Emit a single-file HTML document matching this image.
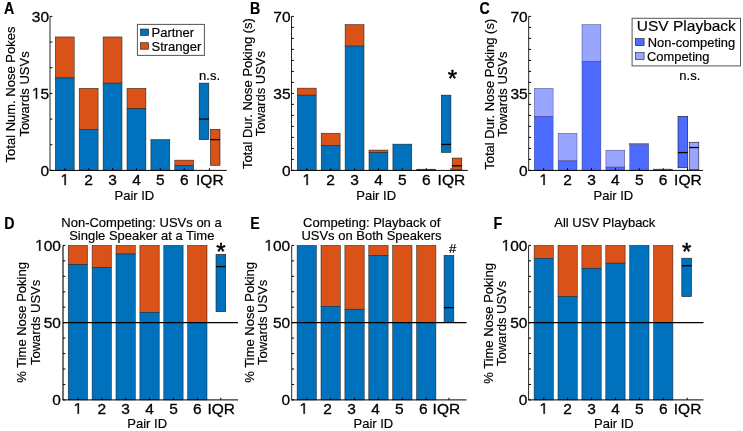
<!DOCTYPE html>
<html><head><meta charset="utf-8"><style>html,body{margin:0;padding:0;background:#fff;overflow:hidden}svg{display:block;filter:blur(0.45px)}</style></head>
<body><svg width="743" height="431" viewBox="0 0 743 431" font-family="Liberation Sans, sans-serif"><rect width="743" height="431" fill="#fff"/><rect x="55.30" y="36.94" width="18.90" height="41.06" fill="#D95319" stroke="#1a1a1a" stroke-width="0.5"/><rect x="55.30" y="78.01" width="18.90" height="92.39" fill="#0072BD" stroke="#1a1a1a" stroke-width="0.5"/><rect x="79.20" y="88.27" width="18.90" height="41.06" fill="#D95319" stroke="#1a1a1a" stroke-width="0.5"/><rect x="79.20" y="129.34" width="18.90" height="41.06" fill="#0072BD" stroke="#1a1a1a" stroke-width="0.5"/><rect x="103.10" y="36.94" width="18.90" height="46.20" fill="#D95319" stroke="#1a1a1a" stroke-width="0.5"/><rect x="103.10" y="83.14" width="18.90" height="87.26" fill="#0072BD" stroke="#1a1a1a" stroke-width="0.5"/><rect x="127.00" y="88.27" width="18.90" height="20.53" fill="#D95319" stroke="#1a1a1a" stroke-width="0.5"/><rect x="127.00" y="108.80" width="18.90" height="61.60" fill="#0072BD" stroke="#1a1a1a" stroke-width="0.5"/><rect x="150.90" y="139.60" width="18.90" height="0.00" fill="#D95319" stroke="#1a1a1a" stroke-width="0.5"/><rect x="150.90" y="139.60" width="18.90" height="30.80" fill="#0072BD" stroke="#1a1a1a" stroke-width="0.5"/><rect x="174.80" y="160.13" width="18.90" height="5.13" fill="#D95319" stroke="#1a1a1a" stroke-width="0.5"/><rect x="174.80" y="165.27" width="18.90" height="5.13" fill="#0072BD" stroke="#1a1a1a" stroke-width="0.5"/><rect x="199.20" y="83.14" width="9.60" height="56.46" fill="#0072BD" stroke="#1a1a1a" stroke-width="0.6"/><line x1="199.20" y1="119.07" x2="208.80" y2="119.07" stroke="#000" stroke-width="1.3"/><rect x="210.40" y="129.34" width="9.60" height="35.93" fill="#D95319" stroke="#1a1a1a" stroke-width="0.6"/><line x1="210.40" y1="139.60" x2="220.00" y2="139.60" stroke="#000" stroke-width="1.3"/><line x1="50.00" y1="16.41" x2="50.00" y2="170.40" stroke="#262626" stroke-width="1.0"/><line x1="50.00" y1="170.40" x2="52.40" y2="170.40" stroke="#000" stroke-width="1"/><line x1="50.00" y1="144.74" x2="52.40" y2="144.74" stroke="#000" stroke-width="1"/><line x1="50.00" y1="119.07" x2="52.40" y2="119.07" stroke="#000" stroke-width="1"/><line x1="50.00" y1="93.41" x2="52.40" y2="93.41" stroke="#000" stroke-width="1"/><line x1="50.00" y1="67.74" x2="52.40" y2="67.74" stroke="#000" stroke-width="1"/><line x1="50.00" y1="42.08" x2="52.40" y2="42.08" stroke="#000" stroke-width="1"/><line x1="50.00" y1="16.41" x2="52.40" y2="16.41" stroke="#000" stroke-width="1"/><text x="40.38" y="175.70" font-size="15.5" text-anchor="start" font-weight="normal" fill="#000" stroke="#000" stroke-width="0.3">0</text><path d="M540 0H706V1409H545L197 1180V1010L540 1237Z" transform="translate(31.76 98.70) scale(0.00757 -0.00757)" fill="#000" stroke="#000" stroke-width="39.6"/><text x="40.38" y="98.70" font-size="15.5" text-anchor="start" font-weight="normal" fill="#000" stroke="#000" stroke-width="0.3">5</text><text x="31.76" y="21.71" font-size="15.5" text-anchor="start" font-weight="normal" fill="#000" stroke="#000" stroke-width="0.3">3</text><text x="40.38" y="21.71" font-size="15.5" text-anchor="start" font-weight="normal" fill="#000" stroke="#000" stroke-width="0.3">0</text><line x1="49.50" y1="170.40" x2="226.70" y2="170.40" stroke="#000" stroke-width="1"/><line x1="64.75" y1="170.40" x2="64.75" y2="168.20" stroke="#000" stroke-width="1"/><path d="M540 0H706V1409H545L197 1180V1010L540 1237Z" transform="translate(60.44 185.00) scale(0.00757 -0.00757)" fill="#000" stroke="#000" stroke-width="39.6"/><line x1="88.65" y1="170.40" x2="88.65" y2="168.20" stroke="#000" stroke-width="1"/><text x="84.34" y="185.00" font-size="15.5" text-anchor="start" font-weight="normal" fill="#000" stroke="#000" stroke-width="0.3">2</text><line x1="112.55" y1="170.40" x2="112.55" y2="168.20" stroke="#000" stroke-width="1"/><text x="108.24" y="185.00" font-size="15.5" text-anchor="start" font-weight="normal" fill="#000" stroke="#000" stroke-width="0.3">3</text><line x1="136.45" y1="170.40" x2="136.45" y2="168.20" stroke="#000" stroke-width="1"/><text x="132.14" y="185.00" font-size="15.5" text-anchor="start" font-weight="normal" fill="#000" stroke="#000" stroke-width="0.3">4</text><line x1="160.35" y1="170.40" x2="160.35" y2="168.20" stroke="#000" stroke-width="1"/><text x="156.04" y="185.00" font-size="15.5" text-anchor="start" font-weight="normal" fill="#000" stroke="#000" stroke-width="0.3">5</text><line x1="184.25" y1="170.40" x2="184.25" y2="168.20" stroke="#000" stroke-width="1"/><text x="179.94" y="185.00" font-size="15.5" text-anchor="start" font-weight="normal" fill="#000" stroke="#000" stroke-width="0.3">6</text><line x1="209.40" y1="170.40" x2="209.40" y2="168.20" stroke="#000" stroke-width="1"/><text x="209.80" y="185.00" font-size="15.5" text-anchor="middle" font-weight="normal" fill="#000" stroke="#000" stroke-width="0.3">IQR</text><text x="134.40" y="199.60" font-size="13" text-anchor="middle" font-weight="normal" fill="#000" stroke="#000" stroke-width="0.18">Pair ID</text><text x="15.20" y="94.50" font-size="13" text-anchor="middle" font-weight="normal" fill="#000" stroke="#000" stroke-width="0.18" transform="rotate(-90 15.20 94.50)">Total Num. Nose Pokes</text><text x="28.70" y="94.00" font-size="13" text-anchor="middle" font-weight="normal" fill="#000" stroke="#000" stroke-width="0.18" transform="rotate(-90 28.70 94.00)">Towards USVs</text><rect x="297.30" y="88.12" width="18.90" height="7.04" fill="#D95319" stroke="#1a1a1a" stroke-width="0.5"/><rect x="297.30" y="95.16" width="18.90" height="75.24" fill="#0072BD" stroke="#1a1a1a" stroke-width="0.5"/><rect x="321.20" y="133.22" width="18.90" height="12.32" fill="#D95319" stroke="#1a1a1a" stroke-width="0.5"/><rect x="321.20" y="145.54" width="18.90" height="24.86" fill="#0072BD" stroke="#1a1a1a" stroke-width="0.5"/><rect x="345.10" y="24.54" width="18.90" height="21.56" fill="#D95319" stroke="#1a1a1a" stroke-width="0.5"/><rect x="345.10" y="46.10" width="18.90" height="124.30" fill="#0072BD" stroke="#1a1a1a" stroke-width="0.5"/><rect x="369.00" y="150.05" width="18.90" height="2.53" fill="#D95319" stroke="#1a1a1a" stroke-width="0.5"/><rect x="369.00" y="152.58" width="18.90" height="17.82" fill="#0072BD" stroke="#1a1a1a" stroke-width="0.5"/><rect x="392.90" y="144.11" width="18.90" height="0.00" fill="#D95319" stroke="#1a1a1a" stroke-width="0.5"/><rect x="392.90" y="144.11" width="18.90" height="26.29" fill="#0072BD" stroke="#1a1a1a" stroke-width="0.5"/><rect x="416.80" y="169.19" width="18.90" height="0.11" fill="#D95319" stroke="#1a1a1a" stroke-width="0.5"/><rect x="416.80" y="169.30" width="18.90" height="1.10" fill="#0072BD" stroke="#1a1a1a" stroke-width="0.5"/><rect x="441.30" y="95.16" width="9.60" height="57.20" fill="#0072BD" stroke="#1a1a1a" stroke-width="0.6"/><line x1="441.30" y1="144.44" x2="450.90" y2="144.44" stroke="#000" stroke-width="1.3"/><rect x="452.20" y="158.08" width="9.60" height="11.88" fill="#D95319" stroke="#1a1a1a" stroke-width="0.6"/><line x1="452.20" y1="165.78" x2="461.80" y2="165.78" stroke="#000" stroke-width="1.3"/><line x1="291.50" y1="16.40" x2="291.50" y2="170.40" stroke="#262626" stroke-width="1.0"/><line x1="291.50" y1="170.40" x2="293.90" y2="170.40" stroke="#000" stroke-width="1"/><line x1="291.50" y1="159.40" x2="293.90" y2="159.40" stroke="#000" stroke-width="1"/><line x1="291.50" y1="148.40" x2="293.90" y2="148.40" stroke="#000" stroke-width="1"/><line x1="291.50" y1="137.40" x2="293.90" y2="137.40" stroke="#000" stroke-width="1"/><line x1="291.50" y1="126.40" x2="293.90" y2="126.40" stroke="#000" stroke-width="1"/><line x1="291.50" y1="115.40" x2="293.90" y2="115.40" stroke="#000" stroke-width="1"/><line x1="291.50" y1="104.40" x2="293.90" y2="104.40" stroke="#000" stroke-width="1"/><line x1="291.50" y1="93.40" x2="293.90" y2="93.40" stroke="#000" stroke-width="1"/><line x1="291.50" y1="82.40" x2="293.90" y2="82.40" stroke="#000" stroke-width="1"/><line x1="291.50" y1="71.40" x2="293.90" y2="71.40" stroke="#000" stroke-width="1"/><line x1="291.50" y1="60.40" x2="293.90" y2="60.40" stroke="#000" stroke-width="1"/><line x1="291.50" y1="49.40" x2="293.90" y2="49.40" stroke="#000" stroke-width="1"/><line x1="291.50" y1="38.40" x2="293.90" y2="38.40" stroke="#000" stroke-width="1"/><line x1="291.50" y1="27.40" x2="293.90" y2="27.40" stroke="#000" stroke-width="1"/><line x1="291.50" y1="16.40" x2="293.90" y2="16.40" stroke="#000" stroke-width="1"/><text x="281.88" y="175.70" font-size="15.5" text-anchor="start" font-weight="normal" fill="#000" stroke="#000" stroke-width="0.3">0</text><text x="273.26" y="98.70" font-size="15.5" text-anchor="start" font-weight="normal" fill="#000" stroke="#000" stroke-width="0.3">3</text><text x="281.88" y="98.70" font-size="15.5" text-anchor="start" font-weight="normal" fill="#000" stroke="#000" stroke-width="0.3">5</text><text x="273.26" y="21.70" font-size="15.5" text-anchor="start" font-weight="normal" fill="#000" stroke="#000" stroke-width="0.3">7</text><text x="281.88" y="21.70" font-size="15.5" text-anchor="start" font-weight="normal" fill="#000" stroke="#000" stroke-width="0.3">0</text><line x1="291.00" y1="170.40" x2="467.80" y2="170.40" stroke="#000" stroke-width="1"/><line x1="306.75" y1="170.40" x2="306.75" y2="168.20" stroke="#000" stroke-width="1"/><path d="M540 0H706V1409H545L197 1180V1010L540 1237Z" transform="translate(302.44 185.00) scale(0.00757 -0.00757)" fill="#000" stroke="#000" stroke-width="39.6"/><line x1="330.65" y1="170.40" x2="330.65" y2="168.20" stroke="#000" stroke-width="1"/><text x="326.34" y="185.00" font-size="15.5" text-anchor="start" font-weight="normal" fill="#000" stroke="#000" stroke-width="0.3">2</text><line x1="354.55" y1="170.40" x2="354.55" y2="168.20" stroke="#000" stroke-width="1"/><text x="350.24" y="185.00" font-size="15.5" text-anchor="start" font-weight="normal" fill="#000" stroke="#000" stroke-width="0.3">3</text><line x1="378.45" y1="170.40" x2="378.45" y2="168.20" stroke="#000" stroke-width="1"/><text x="374.14" y="185.00" font-size="15.5" text-anchor="start" font-weight="normal" fill="#000" stroke="#000" stroke-width="0.3">4</text><line x1="402.35" y1="170.40" x2="402.35" y2="168.20" stroke="#000" stroke-width="1"/><text x="398.04" y="185.00" font-size="15.5" text-anchor="start" font-weight="normal" fill="#000" stroke="#000" stroke-width="0.3">5</text><line x1="426.25" y1="170.40" x2="426.25" y2="168.20" stroke="#000" stroke-width="1"/><text x="421.94" y="185.00" font-size="15.5" text-anchor="start" font-weight="normal" fill="#000" stroke="#000" stroke-width="0.3">6</text><line x1="451.00" y1="170.40" x2="451.00" y2="168.20" stroke="#000" stroke-width="1"/><text x="451.40" y="185.00" font-size="15.5" text-anchor="middle" font-weight="normal" fill="#000" stroke="#000" stroke-width="0.3">IQR</text><text x="376.20" y="199.60" font-size="13" text-anchor="middle" font-weight="normal" fill="#000" stroke="#000" stroke-width="0.18">Pair ID</text><text x="251.90" y="93.60" font-size="13" text-anchor="middle" font-weight="normal" fill="#000" stroke="#000" stroke-width="0.18" transform="rotate(-90 251.90 93.60)">Total Dur. Nose Poking (s)</text><text x="265.10" y="93.60" font-size="13" text-anchor="middle" font-weight="normal" fill="#000" stroke="#000" stroke-width="0.18" transform="rotate(-90 265.10 93.60)">Towards USVs</text><rect x="534.20" y="88.34" width="18.90" height="27.94" fill="#99A5FF" stroke="#30305a" stroke-width="0.4"/><rect x="534.20" y="116.28" width="18.90" height="54.12" fill="#4D6BFF" stroke="#30305a" stroke-width="0.4"/><rect x="558.10" y="133.22" width="18.90" height="27.72" fill="#99A5FF" stroke="#30305a" stroke-width="0.4"/><rect x="558.10" y="160.94" width="18.90" height="9.46" fill="#4D6BFF" stroke="#30305a" stroke-width="0.4"/><rect x="582.00" y="24.54" width="18.90" height="36.74" fill="#99A5FF" stroke="#30305a" stroke-width="0.4"/><rect x="582.00" y="61.28" width="18.90" height="109.12" fill="#4D6BFF" stroke="#30305a" stroke-width="0.4"/><rect x="605.90" y="150.16" width="18.90" height="16.94" fill="#99A5FF" stroke="#30305a" stroke-width="0.4"/><rect x="605.90" y="167.10" width="18.90" height="3.30" fill="#4D6BFF" stroke="#30305a" stroke-width="0.4"/><rect x="629.80" y="143.34" width="18.90" height="1.54" fill="#99A5FF" stroke="#30305a" stroke-width="0.4"/><rect x="629.80" y="144.88" width="18.90" height="25.52" fill="#4D6BFF" stroke="#30305a" stroke-width="0.4"/><rect x="653.70" y="169.08" width="18.90" height="0.77" fill="#99A5FF" stroke="#30305a" stroke-width="0.4"/><rect x="653.70" y="169.85" width="18.90" height="0.55" fill="#4D6BFF" stroke="#30305a" stroke-width="0.4"/><rect x="678.00" y="116.28" width="9.70" height="51.48" fill="#4D6BFF" stroke="#1a1a1a" stroke-width="0.6"/><line x1="678.00" y1="152.58" x2="687.70" y2="152.58" stroke="#000" stroke-width="1.3"/><rect x="689.20" y="142.24" width="9.60" height="27.50" fill="#99A5FF" stroke="#1a1a1a" stroke-width="0.6"/><line x1="689.20" y1="147.52" x2="698.80" y2="147.52" stroke="#000" stroke-width="1.3"/><line x1="528.70" y1="16.40" x2="528.70" y2="170.40" stroke="#262626" stroke-width="1.0"/><line x1="528.70" y1="170.40" x2="531.10" y2="170.40" stroke="#000" stroke-width="1"/><line x1="528.70" y1="159.40" x2="531.10" y2="159.40" stroke="#000" stroke-width="1"/><line x1="528.70" y1="148.40" x2="531.10" y2="148.40" stroke="#000" stroke-width="1"/><line x1="528.70" y1="137.40" x2="531.10" y2="137.40" stroke="#000" stroke-width="1"/><line x1="528.70" y1="126.40" x2="531.10" y2="126.40" stroke="#000" stroke-width="1"/><line x1="528.70" y1="115.40" x2="531.10" y2="115.40" stroke="#000" stroke-width="1"/><line x1="528.70" y1="104.40" x2="531.10" y2="104.40" stroke="#000" stroke-width="1"/><line x1="528.70" y1="93.40" x2="531.10" y2="93.40" stroke="#000" stroke-width="1"/><line x1="528.70" y1="82.40" x2="531.10" y2="82.40" stroke="#000" stroke-width="1"/><line x1="528.70" y1="71.40" x2="531.10" y2="71.40" stroke="#000" stroke-width="1"/><line x1="528.70" y1="60.40" x2="531.10" y2="60.40" stroke="#000" stroke-width="1"/><line x1="528.70" y1="49.40" x2="531.10" y2="49.40" stroke="#000" stroke-width="1"/><line x1="528.70" y1="38.40" x2="531.10" y2="38.40" stroke="#000" stroke-width="1"/><line x1="528.70" y1="27.40" x2="531.10" y2="27.40" stroke="#000" stroke-width="1"/><line x1="528.70" y1="16.40" x2="531.10" y2="16.40" stroke="#000" stroke-width="1"/><text x="519.08" y="175.70" font-size="15.5" text-anchor="start" font-weight="normal" fill="#000" stroke="#000" stroke-width="0.3">0</text><text x="510.46" y="98.70" font-size="15.5" text-anchor="start" font-weight="normal" fill="#000" stroke="#000" stroke-width="0.3">3</text><text x="519.08" y="98.70" font-size="15.5" text-anchor="start" font-weight="normal" fill="#000" stroke="#000" stroke-width="0.3">5</text><text x="510.46" y="21.70" font-size="15.5" text-anchor="start" font-weight="normal" fill="#000" stroke="#000" stroke-width="0.3">7</text><text x="519.08" y="21.70" font-size="15.5" text-anchor="start" font-weight="normal" fill="#000" stroke="#000" stroke-width="0.3">0</text><line x1="528.20" y1="170.40" x2="702.90" y2="170.40" stroke="#000" stroke-width="1"/><line x1="543.65" y1="170.40" x2="543.65" y2="168.20" stroke="#000" stroke-width="1"/><path d="M540 0H706V1409H545L197 1180V1010L540 1237Z" transform="translate(539.34 185.00) scale(0.00757 -0.00757)" fill="#000" stroke="#000" stroke-width="39.6"/><line x1="567.55" y1="170.40" x2="567.55" y2="168.20" stroke="#000" stroke-width="1"/><text x="563.24" y="185.00" font-size="15.5" text-anchor="start" font-weight="normal" fill="#000" stroke="#000" stroke-width="0.3">2</text><line x1="591.45" y1="170.40" x2="591.45" y2="168.20" stroke="#000" stroke-width="1"/><text x="587.14" y="185.00" font-size="15.5" text-anchor="start" font-weight="normal" fill="#000" stroke="#000" stroke-width="0.3">3</text><line x1="615.35" y1="170.40" x2="615.35" y2="168.20" stroke="#000" stroke-width="1"/><text x="611.04" y="185.00" font-size="15.5" text-anchor="start" font-weight="normal" fill="#000" stroke="#000" stroke-width="0.3">4</text><line x1="639.25" y1="170.40" x2="639.25" y2="168.20" stroke="#000" stroke-width="1"/><text x="634.94" y="185.00" font-size="15.5" text-anchor="start" font-weight="normal" fill="#000" stroke="#000" stroke-width="0.3">5</text><line x1="663.15" y1="170.40" x2="663.15" y2="168.20" stroke="#000" stroke-width="1"/><text x="658.84" y="185.00" font-size="15.5" text-anchor="start" font-weight="normal" fill="#000" stroke="#000" stroke-width="0.3">6</text><line x1="687.50" y1="170.40" x2="687.50" y2="168.20" stroke="#000" stroke-width="1"/><text x="687.90" y="185.00" font-size="15.5" text-anchor="middle" font-weight="normal" fill="#000" stroke="#000" stroke-width="0.3">IQR</text><text x="613.40" y="199.60" font-size="13" text-anchor="middle" font-weight="normal" fill="#000" stroke="#000" stroke-width="0.18">Pair ID</text><text x="493.60" y="94.20" font-size="13" text-anchor="middle" font-weight="normal" fill="#000" stroke="#000" stroke-width="0.18" transform="rotate(-90 493.60 94.20)">Total Dur. Nose Poking (s)</text><text x="506.70" y="94.00" font-size="13" text-anchor="middle" font-weight="normal" fill="#000" stroke="#000" stroke-width="0.18" transform="rotate(-90 506.70 94.00)">Towards USVs</text><text x="0.00" y="0.00" font-size="15.8" text-anchor="start" font-weight="bold" fill="#000" stroke="#000" stroke-width="0.18" transform="translate(4.00 13.80) scale(0.9 1)">A</text><text x="0.00" y="0.00" font-size="15.8" text-anchor="start" font-weight="bold" fill="#000" stroke="#000" stroke-width="0.18" transform="translate(250.00 13.80) scale(0.9 1)">B</text><text x="0.00" y="0.00" font-size="15.8" text-anchor="start" font-weight="bold" fill="#000" stroke="#000" stroke-width="0.18" transform="translate(479.60 14.00) scale(0.9 1)">C</text><text x="0.00" y="0.00" font-size="15.8" text-anchor="start" font-weight="bold" fill="#000" stroke="#000" stroke-width="0.18" transform="translate(4.30 229.40) scale(0.9 1)">D</text><text x="0.00" y="0.00" font-size="15.8" text-anchor="start" font-weight="bold" fill="#000" stroke="#000" stroke-width="0.18" transform="translate(250.20 229.40) scale(0.9 1)">E</text><text x="0.00" y="0.00" font-size="15.8" text-anchor="start" font-weight="bold" fill="#000" stroke="#000" stroke-width="0.18" transform="translate(493.40 229.40) scale(0.9 1)">F</text><rect x="137.40" y="24.40" width="67.00" height="31.00" fill="#fff" stroke="#555" stroke-width="1"/><rect x="140.40" y="29.00" width="8.20" height="6.50" fill="#0072BD" stroke="#1a1a1a" stroke-width="0.6"/><rect x="140.40" y="42.70" width="8.20" height="6.50" fill="#D95319" stroke="#1a1a1a" stroke-width="0.6"/><text x="151.50" y="36.80" font-size="13" text-anchor="start" font-weight="normal" fill="#000" stroke="#000" stroke-width="0.18">Partner</text><text x="151.50" y="50.50" font-size="13" text-anchor="start" font-weight="normal" fill="#000" stroke="#000" stroke-width="0.18">Stranger</text><text x="209.60" y="79.60" font-size="13" text-anchor="middle" font-weight="normal" fill="#000" stroke="#000" stroke-width="0.18">n.s.</text><text x="452.40" y="86.60" font-size="24" text-anchor="middle" font-weight="normal" fill="#000" stroke="#000" stroke-width="0.5">*</text><rect x="632.10" y="18.30" width="108.40" height="47.60" fill="#fff" stroke="#555" stroke-width="1"/><text x="636.80" y="31.40" font-size="15.5" text-anchor="start" font-weight="normal" fill="#000" stroke="#000" stroke-width="0.18">USV Playback</text><rect x="635.30" y="38.60" width="8.80" height="7.10" fill="#4D6BFF" stroke="#1a1a1a" stroke-width="0.6"/><rect x="635.30" y="52.60" width="8.80" height="7.10" fill="#99A5FF" stroke="#1a1a1a" stroke-width="0.6"/><text x="647.80" y="46.50" font-size="12.9" text-anchor="start" font-weight="normal" fill="#000" stroke="#000" stroke-width="0.18">Non-competing</text><text x="647.00" y="60.50" font-size="12.9" text-anchor="start" font-weight="normal" fill="#000" stroke="#000" stroke-width="0.18">Competing</text><text x="689.80" y="79.60" font-size="13" text-anchor="middle" font-weight="normal" fill="#000" stroke="#000" stroke-width="0.18">n.s.</text><rect x="68.20" y="245.40" width="19.30" height="19.31" fill="#D95319" stroke="#1a1a1a" stroke-width="0.5"/><rect x="68.20" y="264.71" width="19.30" height="135.19" fill="#0072BD" stroke="#1a1a1a" stroke-width="0.5"/><rect x="92.10" y="245.40" width="19.30" height="22.09" fill="#D95319" stroke="#1a1a1a" stroke-width="0.5"/><rect x="92.10" y="267.49" width="19.30" height="132.41" fill="#0072BD" stroke="#1a1a1a" stroke-width="0.5"/><rect x="116.00" y="245.40" width="19.30" height="8.65" fill="#D95319" stroke="#1a1a1a" stroke-width="0.5"/><rect x="116.00" y="254.05" width="19.30" height="145.85" fill="#0072BD" stroke="#1a1a1a" stroke-width="0.5"/><rect x="139.90" y="245.40" width="19.30" height="66.90" fill="#D95319" stroke="#1a1a1a" stroke-width="0.5"/><rect x="139.90" y="312.30" width="19.30" height="87.60" fill="#0072BD" stroke="#1a1a1a" stroke-width="0.5"/><rect x="163.80" y="245.40" width="19.30" height="0.00" fill="#D95319" stroke="#1a1a1a" stroke-width="0.5"/><rect x="163.80" y="245.40" width="19.30" height="154.50" fill="#0072BD" stroke="#1a1a1a" stroke-width="0.5"/><rect x="187.70" y="245.40" width="19.30" height="77.25" fill="#D95319" stroke="#1a1a1a" stroke-width="0.5"/><rect x="187.70" y="322.65" width="19.30" height="77.25" fill="#0072BD" stroke="#1a1a1a" stroke-width="0.5"/><rect x="216.00" y="254.36" width="9.70" height="57.32" fill="#0072BD" stroke="#1a1a1a" stroke-width="0.6"/><line x1="216.00" y1="266.57" x2="225.70" y2="266.57" stroke="#000" stroke-width="1.3"/><line x1="63.00" y1="245.40" x2="63.00" y2="399.90" stroke="#262626" stroke-width="1.3"/><line x1="63.00" y1="399.90" x2="65.40" y2="399.90" stroke="#000" stroke-width="1"/><line x1="63.00" y1="384.45" x2="65.40" y2="384.45" stroke="#000" stroke-width="1"/><line x1="63.00" y1="369.00" x2="65.40" y2="369.00" stroke="#000" stroke-width="1"/><line x1="63.00" y1="353.55" x2="65.40" y2="353.55" stroke="#000" stroke-width="1"/><line x1="63.00" y1="338.10" x2="65.40" y2="338.10" stroke="#000" stroke-width="1"/><line x1="63.00" y1="322.65" x2="65.40" y2="322.65" stroke="#000" stroke-width="1"/><line x1="63.00" y1="307.20" x2="65.40" y2="307.20" stroke="#000" stroke-width="1"/><line x1="63.00" y1="291.75" x2="65.40" y2="291.75" stroke="#000" stroke-width="1"/><line x1="63.00" y1="276.30" x2="65.40" y2="276.30" stroke="#000" stroke-width="1"/><line x1="63.00" y1="260.85" x2="65.40" y2="260.85" stroke="#000" stroke-width="1"/><line x1="63.00" y1="245.40" x2="65.40" y2="245.40" stroke="#000" stroke-width="1"/><text x="52.28" y="405.20" font-size="15.5" text-anchor="start" font-weight="normal" fill="#000" stroke="#000" stroke-width="0.3">0</text><text x="43.66" y="327.95" font-size="15.5" text-anchor="start" font-weight="normal" fill="#000" stroke="#000" stroke-width="0.3">5</text><text x="52.28" y="327.95" font-size="15.5" text-anchor="start" font-weight="normal" fill="#000" stroke="#000" stroke-width="0.3">0</text><path d="M540 0H706V1409H545L197 1180V1010L540 1237Z" transform="translate(35.04 250.70) scale(0.00757 -0.00757)" fill="#000" stroke="#000" stroke-width="39.6"/><text x="43.66" y="250.70" font-size="15.5" text-anchor="start" font-weight="normal" fill="#000" stroke="#000" stroke-width="0.3">0</text><text x="52.28" y="250.70" font-size="15.5" text-anchor="start" font-weight="normal" fill="#000" stroke="#000" stroke-width="0.3">0</text><line x1="63.00" y1="322.65" x2="238.00" y2="322.65" stroke="#000" stroke-width="1.3"/><line x1="62.50" y1="399.90" x2="238.00" y2="399.90" stroke="#000" stroke-width="1"/><line x1="77.85" y1="399.90" x2="77.85" y2="397.70" stroke="#000" stroke-width="1"/><path d="M540 0H706V1409H545L197 1180V1010L540 1237Z" transform="translate(73.54 413.80) scale(0.00757 -0.00757)" fill="#000" stroke="#000" stroke-width="39.6"/><line x1="101.75" y1="399.90" x2="101.75" y2="397.70" stroke="#000" stroke-width="1"/><text x="97.44" y="413.80" font-size="15.5" text-anchor="start" font-weight="normal" fill="#000" stroke="#000" stroke-width="0.3">2</text><line x1="125.65" y1="399.90" x2="125.65" y2="397.70" stroke="#000" stroke-width="1"/><text x="121.34" y="413.80" font-size="15.5" text-anchor="start" font-weight="normal" fill="#000" stroke="#000" stroke-width="0.3">3</text><line x1="149.55" y1="399.90" x2="149.55" y2="397.70" stroke="#000" stroke-width="1"/><text x="145.24" y="413.80" font-size="15.5" text-anchor="start" font-weight="normal" fill="#000" stroke="#000" stroke-width="0.3">4</text><line x1="173.45" y1="399.90" x2="173.45" y2="397.70" stroke="#000" stroke-width="1"/><text x="169.14" y="413.80" font-size="15.5" text-anchor="start" font-weight="normal" fill="#000" stroke="#000" stroke-width="0.3">5</text><line x1="197.35" y1="399.90" x2="197.35" y2="397.70" stroke="#000" stroke-width="1"/><text x="193.04" y="413.80" font-size="15.5" text-anchor="start" font-weight="normal" fill="#000" stroke="#000" stroke-width="0.3">6</text><line x1="220.80" y1="399.90" x2="220.80" y2="397.70" stroke="#000" stroke-width="1"/><text x="221.20" y="413.80" font-size="15.5" text-anchor="middle" font-weight="normal" fill="#000" stroke="#000" stroke-width="0.3">IQR</text><text x="147.20" y="428.00" font-size="13" text-anchor="middle" font-weight="normal" fill="#000" stroke="#000" stroke-width="0.18">Pair ID</text><rect x="297.10" y="245.40" width="19.30" height="0.00" fill="#D95319" stroke="#1a1a1a" stroke-width="0.5"/><rect x="297.10" y="245.40" width="19.30" height="154.50" fill="#0072BD" stroke="#1a1a1a" stroke-width="0.5"/><rect x="321.00" y="245.40" width="19.30" height="60.87" fill="#D95319" stroke="#1a1a1a" stroke-width="0.5"/><rect x="321.00" y="306.27" width="19.30" height="93.63" fill="#0072BD" stroke="#1a1a1a" stroke-width="0.5"/><rect x="344.90" y="245.40" width="19.30" height="63.81" fill="#D95319" stroke="#1a1a1a" stroke-width="0.5"/><rect x="344.90" y="309.21" width="19.30" height="90.69" fill="#0072BD" stroke="#1a1a1a" stroke-width="0.5"/><rect x="368.80" y="245.40" width="19.30" height="10.04" fill="#D95319" stroke="#1a1a1a" stroke-width="0.5"/><rect x="368.80" y="255.44" width="19.30" height="144.46" fill="#0072BD" stroke="#1a1a1a" stroke-width="0.5"/><rect x="392.70" y="245.40" width="19.30" height="77.25" fill="#D95319" stroke="#1a1a1a" stroke-width="0.5"/><rect x="392.70" y="322.65" width="19.30" height="77.25" fill="#0072BD" stroke="#1a1a1a" stroke-width="0.5"/><rect x="416.60" y="245.40" width="19.30" height="77.25" fill="#D95319" stroke="#1a1a1a" stroke-width="0.5"/><rect x="416.60" y="322.65" width="19.30" height="77.25" fill="#0072BD" stroke="#1a1a1a" stroke-width="0.5"/><rect x="444.10" y="255.44" width="9.70" height="66.90" fill="#0072BD" stroke="#1a1a1a" stroke-width="0.6"/><line x1="444.10" y1="307.66" x2="453.80" y2="307.66" stroke="#000" stroke-width="1.3"/><line x1="291.70" y1="245.40" x2="291.70" y2="399.90" stroke="#262626" stroke-width="1.0"/><line x1="291.70" y1="399.90" x2="294.10" y2="399.90" stroke="#000" stroke-width="1"/><line x1="291.70" y1="384.45" x2="294.10" y2="384.45" stroke="#000" stroke-width="1"/><line x1="291.70" y1="369.00" x2="294.10" y2="369.00" stroke="#000" stroke-width="1"/><line x1="291.70" y1="353.55" x2="294.10" y2="353.55" stroke="#000" stroke-width="1"/><line x1="291.70" y1="338.10" x2="294.10" y2="338.10" stroke="#000" stroke-width="1"/><line x1="291.70" y1="322.65" x2="294.10" y2="322.65" stroke="#000" stroke-width="1"/><line x1="291.70" y1="307.20" x2="294.10" y2="307.20" stroke="#000" stroke-width="1"/><line x1="291.70" y1="291.75" x2="294.10" y2="291.75" stroke="#000" stroke-width="1"/><line x1="291.70" y1="276.30" x2="294.10" y2="276.30" stroke="#000" stroke-width="1"/><line x1="291.70" y1="260.85" x2="294.10" y2="260.85" stroke="#000" stroke-width="1"/><line x1="291.70" y1="245.40" x2="294.10" y2="245.40" stroke="#000" stroke-width="1"/><text x="281.58" y="405.20" font-size="15.5" text-anchor="start" font-weight="normal" fill="#000" stroke="#000" stroke-width="0.3">0</text><text x="272.96" y="327.95" font-size="15.5" text-anchor="start" font-weight="normal" fill="#000" stroke="#000" stroke-width="0.3">5</text><text x="281.58" y="327.95" font-size="15.5" text-anchor="start" font-weight="normal" fill="#000" stroke="#000" stroke-width="0.3">0</text><path d="M540 0H706V1409H545L197 1180V1010L540 1237Z" transform="translate(264.34 250.70) scale(0.00757 -0.00757)" fill="#000" stroke="#000" stroke-width="39.6"/><text x="272.96" y="250.70" font-size="15.5" text-anchor="start" font-weight="normal" fill="#000" stroke="#000" stroke-width="0.3">0</text><text x="281.58" y="250.70" font-size="15.5" text-anchor="start" font-weight="normal" fill="#000" stroke="#000" stroke-width="0.3">0</text><line x1="291.70" y1="322.65" x2="466.50" y2="322.65" stroke="#000" stroke-width="1.3"/><line x1="291.20" y1="399.90" x2="466.50" y2="399.90" stroke="#000" stroke-width="1"/><line x1="306.75" y1="399.90" x2="306.75" y2="397.70" stroke="#000" stroke-width="1"/><path d="M540 0H706V1409H545L197 1180V1010L540 1237Z" transform="translate(299.44 413.80) scale(0.00757 -0.00757)" fill="#000" stroke="#000" stroke-width="39.6"/><line x1="330.65" y1="399.90" x2="330.65" y2="397.70" stroke="#000" stroke-width="1"/><text x="323.34" y="413.80" font-size="15.5" text-anchor="start" font-weight="normal" fill="#000" stroke="#000" stroke-width="0.3">2</text><line x1="354.55" y1="399.90" x2="354.55" y2="397.70" stroke="#000" stroke-width="1"/><text x="347.24" y="413.80" font-size="15.5" text-anchor="start" font-weight="normal" fill="#000" stroke="#000" stroke-width="0.3">3</text><line x1="378.45" y1="399.90" x2="378.45" y2="397.70" stroke="#000" stroke-width="1"/><text x="371.14" y="413.80" font-size="15.5" text-anchor="start" font-weight="normal" fill="#000" stroke="#000" stroke-width="0.3">4</text><line x1="402.35" y1="399.90" x2="402.35" y2="397.70" stroke="#000" stroke-width="1"/><text x="395.04" y="413.80" font-size="15.5" text-anchor="start" font-weight="normal" fill="#000" stroke="#000" stroke-width="0.3">5</text><line x1="426.25" y1="399.90" x2="426.25" y2="397.70" stroke="#000" stroke-width="1"/><text x="418.94" y="413.80" font-size="15.5" text-anchor="start" font-weight="normal" fill="#000" stroke="#000" stroke-width="0.3">6</text><line x1="449.00" y1="399.90" x2="449.00" y2="397.70" stroke="#000" stroke-width="1"/><text x="446.40" y="413.80" font-size="15.5" text-anchor="middle" font-weight="normal" fill="#000" stroke="#000" stroke-width="0.3">IQR</text><text x="373.40" y="428.00" font-size="13" text-anchor="middle" font-weight="normal" fill="#000" stroke="#000" stroke-width="0.18">Pair ID</text><rect x="534.10" y="245.40" width="19.30" height="12.98" fill="#D95319" stroke="#1a1a1a" stroke-width="0.5"/><rect x="534.10" y="258.38" width="19.30" height="141.52" fill="#0072BD" stroke="#1a1a1a" stroke-width="0.5"/><rect x="558.00" y="245.40" width="19.30" height="51.14" fill="#D95319" stroke="#1a1a1a" stroke-width="0.5"/><rect x="558.00" y="296.54" width="19.30" height="103.36" fill="#0072BD" stroke="#1a1a1a" stroke-width="0.5"/><rect x="581.90" y="245.40" width="19.30" height="22.87" fill="#D95319" stroke="#1a1a1a" stroke-width="0.5"/><rect x="581.90" y="268.27" width="19.30" height="131.63" fill="#0072BD" stroke="#1a1a1a" stroke-width="0.5"/><rect x="605.80" y="245.40" width="19.30" height="17.77" fill="#D95319" stroke="#1a1a1a" stroke-width="0.5"/><rect x="605.80" y="263.17" width="19.30" height="136.73" fill="#0072BD" stroke="#1a1a1a" stroke-width="0.5"/><rect x="629.70" y="245.40" width="19.30" height="0.00" fill="#D95319" stroke="#1a1a1a" stroke-width="0.5"/><rect x="629.70" y="245.40" width="19.30" height="154.50" fill="#0072BD" stroke="#1a1a1a" stroke-width="0.5"/><rect x="653.60" y="245.40" width="19.30" height="77.25" fill="#D95319" stroke="#1a1a1a" stroke-width="0.5"/><rect x="653.60" y="322.65" width="19.30" height="77.25" fill="#0072BD" stroke="#1a1a1a" stroke-width="0.5"/><rect x="681.80" y="258.22" width="9.70" height="38.32" fill="#0072BD" stroke="#1a1a1a" stroke-width="0.6"/><line x1="681.80" y1="265.79" x2="691.50" y2="265.79" stroke="#000" stroke-width="1.3"/><line x1="528.60" y1="245.40" x2="528.60" y2="399.90" stroke="#262626" stroke-width="1.0"/><line x1="528.60" y1="399.90" x2="531.00" y2="399.90" stroke="#000" stroke-width="1"/><line x1="528.60" y1="384.45" x2="531.00" y2="384.45" stroke="#000" stroke-width="1"/><line x1="528.60" y1="369.00" x2="531.00" y2="369.00" stroke="#000" stroke-width="1"/><line x1="528.60" y1="353.55" x2="531.00" y2="353.55" stroke="#000" stroke-width="1"/><line x1="528.60" y1="338.10" x2="531.00" y2="338.10" stroke="#000" stroke-width="1"/><line x1="528.60" y1="322.65" x2="531.00" y2="322.65" stroke="#000" stroke-width="1"/><line x1="528.60" y1="307.20" x2="531.00" y2="307.20" stroke="#000" stroke-width="1"/><line x1="528.60" y1="291.75" x2="531.00" y2="291.75" stroke="#000" stroke-width="1"/><line x1="528.60" y1="276.30" x2="531.00" y2="276.30" stroke="#000" stroke-width="1"/><line x1="528.60" y1="260.85" x2="531.00" y2="260.85" stroke="#000" stroke-width="1"/><line x1="528.60" y1="245.40" x2="531.00" y2="245.40" stroke="#000" stroke-width="1"/><text x="518.78" y="405.20" font-size="15.5" text-anchor="start" font-weight="normal" fill="#000" stroke="#000" stroke-width="0.3">0</text><text x="510.16" y="327.95" font-size="15.5" text-anchor="start" font-weight="normal" fill="#000" stroke="#000" stroke-width="0.3">5</text><text x="518.78" y="327.95" font-size="15.5" text-anchor="start" font-weight="normal" fill="#000" stroke="#000" stroke-width="0.3">0</text><path d="M540 0H706V1409H545L197 1180V1010L540 1237Z" transform="translate(501.54 250.70) scale(0.00757 -0.00757)" fill="#000" stroke="#000" stroke-width="39.6"/><text x="510.16" y="250.70" font-size="15.5" text-anchor="start" font-weight="normal" fill="#000" stroke="#000" stroke-width="0.3">0</text><text x="518.78" y="250.70" font-size="15.5" text-anchor="start" font-weight="normal" fill="#000" stroke="#000" stroke-width="0.3">0</text><line x1="528.60" y1="322.65" x2="703.50" y2="322.65" stroke="#000" stroke-width="1.3"/><line x1="528.10" y1="399.90" x2="703.50" y2="399.90" stroke="#000" stroke-width="1"/><line x1="543.75" y1="399.90" x2="543.75" y2="397.70" stroke="#000" stroke-width="1"/><path d="M540 0H706V1409H545L197 1180V1010L540 1237Z" transform="translate(539.44 413.80) scale(0.00757 -0.00757)" fill="#000" stroke="#000" stroke-width="39.6"/><line x1="567.65" y1="399.90" x2="567.65" y2="397.70" stroke="#000" stroke-width="1"/><text x="563.34" y="413.80" font-size="15.5" text-anchor="start" font-weight="normal" fill="#000" stroke="#000" stroke-width="0.3">2</text><line x1="591.55" y1="399.90" x2="591.55" y2="397.70" stroke="#000" stroke-width="1"/><text x="587.24" y="413.80" font-size="15.5" text-anchor="start" font-weight="normal" fill="#000" stroke="#000" stroke-width="0.3">3</text><line x1="615.45" y1="399.90" x2="615.45" y2="397.70" stroke="#000" stroke-width="1"/><text x="611.14" y="413.80" font-size="15.5" text-anchor="start" font-weight="normal" fill="#000" stroke="#000" stroke-width="0.3">4</text><line x1="639.35" y1="399.90" x2="639.35" y2="397.70" stroke="#000" stroke-width="1"/><text x="635.04" y="413.80" font-size="15.5" text-anchor="start" font-weight="normal" fill="#000" stroke="#000" stroke-width="0.3">5</text><line x1="663.25" y1="399.90" x2="663.25" y2="397.70" stroke="#000" stroke-width="1"/><text x="658.94" y="413.80" font-size="15.5" text-anchor="start" font-weight="normal" fill="#000" stroke="#000" stroke-width="0.3">6</text><line x1="687.20" y1="399.90" x2="687.20" y2="397.70" stroke="#000" stroke-width="1"/><text x="687.60" y="413.80" font-size="15.5" text-anchor="middle" font-weight="normal" fill="#000" stroke="#000" stroke-width="0.3">IQR</text><text x="613.90" y="428.00" font-size="13" text-anchor="middle" font-weight="normal" fill="#000" stroke="#000" stroke-width="0.18">Pair ID</text><text x="26.40" y="322.40" font-size="13" text-anchor="middle" font-weight="normal" fill="#000" stroke="#000" stroke-width="0.18" transform="rotate(-90 26.40 322.40)">% Time Nose Poking</text><text x="39.60" y="322.40" font-size="13" text-anchor="middle" font-weight="normal" fill="#000" stroke="#000" stroke-width="0.18" transform="rotate(-90 39.60 322.40)">Towards USVs</text><text x="253.80" y="322.30" font-size="13" text-anchor="middle" font-weight="normal" fill="#000" stroke="#000" stroke-width="0.18" transform="rotate(-90 253.80 322.30)">% Time Nose Poking</text><text x="267.00" y="322.30" font-size="13" text-anchor="middle" font-weight="normal" fill="#000" stroke="#000" stroke-width="0.18" transform="rotate(-90 267.00 322.30)">Towards USVs</text><text x="492.60" y="323.40" font-size="13" text-anchor="middle" font-weight="normal" fill="#000" stroke="#000" stroke-width="0.18" transform="rotate(-90 492.60 323.40)">% Time Nose Poking</text><text x="505.80" y="323.40" font-size="13" text-anchor="middle" font-weight="normal" fill="#000" stroke="#000" stroke-width="0.18" transform="rotate(-90 505.80 323.40)">Towards USVs</text><text x="141.50" y="226.80" font-size="13" text-anchor="middle" font-weight="normal" fill="#000" stroke="#000" stroke-width="0.18">Non-Competing: USVs on a</text><text x="141.80" y="240.30" font-size="13" text-anchor="middle" font-weight="normal" fill="#000" stroke="#000" stroke-width="0.18">Single Speaker at a Time</text><text x="371.70" y="226.80" font-size="13" text-anchor="middle" font-weight="normal" fill="#000" stroke="#000" stroke-width="0.18">Competing: Playback of</text><text x="371.50" y="240.30" font-size="13" text-anchor="middle" font-weight="normal" fill="#000" stroke="#000" stroke-width="0.18">USVs on Both Speakers</text><text x="604.80" y="226.80" font-size="13" text-anchor="middle" font-weight="normal" fill="#000" stroke="#000" stroke-width="0.18">All USV Playback</text><text x="220.80" y="259.60" font-size="24" text-anchor="middle" font-weight="normal" fill="#000" stroke="#000" stroke-width="0.5">*</text><text x="452.50" y="253.00" font-size="13" text-anchor="middle" font-weight="normal" fill="#000" stroke="#000" stroke-width="0.18">#</text><text x="686.60" y="259.60" font-size="24" text-anchor="middle" font-weight="normal" fill="#000" stroke="#000" stroke-width="0.5">*</text></svg></body></html>
